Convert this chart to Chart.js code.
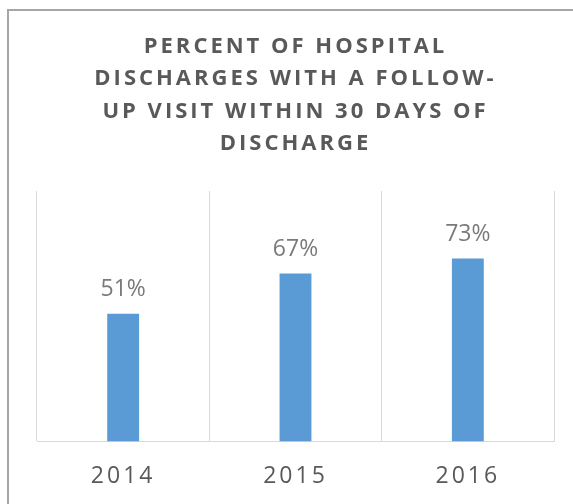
<!DOCTYPE html>
<html>
<head>
<meta charset="utf-8">
<script src="https://cdn.jsdelivr.net/npm/chart.js@4.4.1/dist/chart.umd.min.js"></script>
<style>
  html, body { margin: 0; padding: 0; background: #ffffff; overflow: hidden; }
  .chart-frame {
    position: absolute;
    left: 7px;
    top: 9px;
    width: 700px;
    height: 700px;
    border-left: 2px solid #a6a6a6;
    border-top: 2px solid #a6a6a6;
  }
  /* canvas runs a little past the window bottom, like the cropped original */
  .chart-wrap { position: absolute; left: 0; top: 0; width: 573px; height: 511px; }
</style>
</head>
<body>
<div class="chart-frame"></div>
<div class="chart-wrap"><canvas id="discharge-chart"></canvas></div>
<script>
// Chart data
const years = ['2014', '2015', '2016'];
const followUpPercent = [51, 67, 73];
const titleLines = [
  'PERCENT OF HOSPITAL',
  'DISCHARGES WITH A FOLLOW-',
  'UP VISIT WITHIN 30 DAYS OF',
  'DISCHARGE'
];

const FONT = "'Open Sans', 'Noto Sans', sans-serif";

// Spaced-out caps for title and axis labels, plain text for value labels
const letterSpacingPlugin = {
  id: 'letterSpacing',
  beforeDraw(chart) {
    chart.ctx.letterSpacing = '3px';
  }
};

const valueLabelPlugin = {
  id: 'valueLabels',
  afterDatasetsDraw(chart) {
    const ctx = chart.ctx;
    const meta = chart.getDatasetMeta(0);
    ctx.save();
    ctx.letterSpacing = '0px';
    ctx.font = `23px ${FONT}`;
    ctx.fillStyle = '#7a7a7a';
    ctx.textAlign = 'center';
    ctx.textBaseline = 'alphabetic';
    meta.data.forEach((bar, i) => {
      ctx.fillText(followUpPercent[i] + '%', bar.x, bar.y - 18);
    });
    ctx.restore();
  }
};

const ctx = document.getElementById('discharge-chart').getContext('2d');

new Chart(ctx, {
  type: 'bar',
  data: {
    labels: years,
    datasets: [{
      data: followUpPercent,
      backgroundColor: '#5b9bd5',
      borderWidth: 0,
      categoryPercentage: 1,
      barPercentage: 0.185
    }]
  },
  options: {
    responsive: true,
    maintainAspectRatio: false,
    animation: false,
    layout: {
      padding: { left: 37, right: 19, top: 0, bottom: 0 }
    },
    plugins: {
      legend: { display: false },
      tooltip: { enabled: false },
      title: {
        display: true,
        text: titleLines,
        color: '#595959',
        font: { family: FONT, size: 22, weight: 'bold', lineHeight: 1.477 },
        padding: { top: 30, bottom: 31 }
      }
    },
    scales: {
      x: {
        grid: {
          display: true,
          offset: true,
          color: '#d9d9d9',
          lineWidth: 1,
          drawTicks: false
        },
        border: { display: true, color: '#d9d9d9', width: 1 },
        ticks: {
          color: '#595959',
          font: { family: FONT, size: 23 },
          padding: 21,
          maxRotation: 0
        }
      },
      y: {
        display: false,
        min: 0,
        max: 100
      }
    }
  },
  plugins: [letterSpacingPlugin, valueLabelPlugin]
});
</script>
</body>
</html>
